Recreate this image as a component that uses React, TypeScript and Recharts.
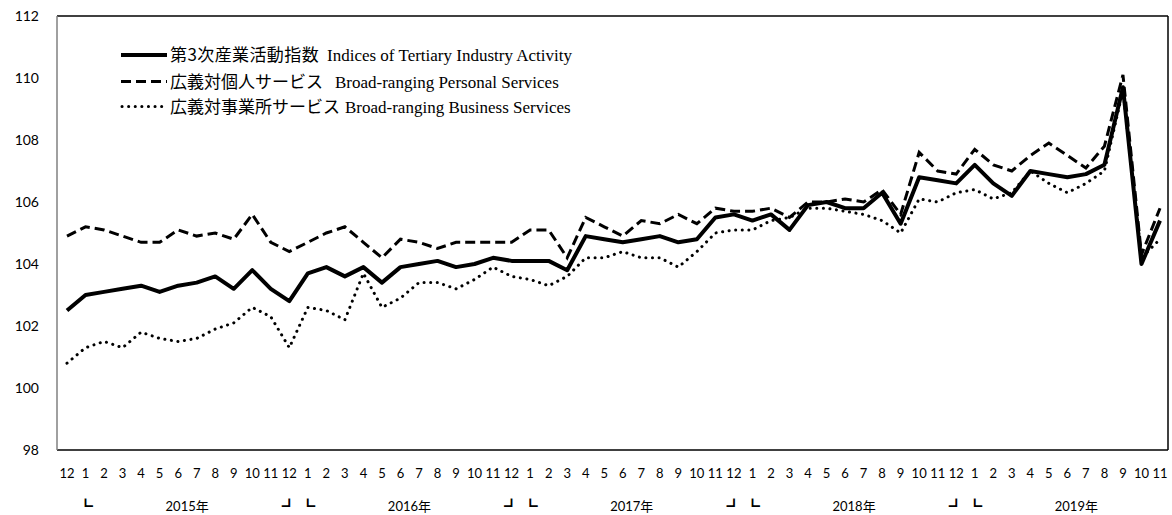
import { Line, LineChart, XAxis, YAxis } from "recharts";

const monthLabels = [
  "12", "1", "2", "3", "4", "5", "6", "7", "8", "9", "10", "11",
  "12", "1", "2", "3", "4", "5", "6", "7", "8", "9", "10", "11",
  "12", "1", "2", "3", "4", "5", "6", "7", "8", "9", "10", "11",
  "12", "1", "2", "3", "4", "5", "6", "7", "8", "9", "10", "11",
  "12", "1", "2", "3", "4", "5", "6", "7", "8", "9", "10", "11",
];
const years = ["2015年", "2016年", "2017年", "2018年", "2019年"];

// 第3次産業活動指数
const tertiary = [
  102.5, 103.0, 103.1, 103.2, 103.3, 103.1, 103.3, 103.4, 103.6, 103.2, 103.8, 103.2,
  102.8, 103.7, 103.9, 103.6, 103.9, 103.4, 103.9, 104.0, 104.1, 103.9, 104.0, 104.2,
  104.1, 104.1, 104.1, 103.8, 104.9, 104.8, 104.7, 104.8, 104.9, 104.7, 104.8, 105.5,
  105.6, 105.4, 105.6, 105.1, 105.9, 106.0, 105.8, 105.8, 106.3, 105.3, 106.8, 106.7,
  106.6, 107.2, 106.6, 106.2, 107.0, 106.9, 106.8, 106.9, 107.2, 109.7, 104.0, 105.4,
];
// 広義対個人サービス
const personal = [
  104.9, 105.2, 105.1, 104.9, 104.7, 104.7, 105.1, 104.9, 105.0, 104.8, 105.6, 104.7,
  104.4, 104.7, 105.0, 105.2, 104.7, 104.2, 104.8, 104.7, 104.5, 104.7, 104.7, 104.7,
  104.7, 105.1, 105.1, 104.2, 105.5, 105.2, 104.9, 105.4, 105.3, 105.6, 105.3, 105.8,
  105.7, 105.7, 105.8, 105.5, 106.0, 106.0, 106.1, 106.0, 106.4, 105.6, 107.6, 107.0,
  106.9, 107.7, 107.2, 107.0, 107.5, 107.9, 107.5, 107.1, 107.8, 110.1, 104.3, 105.8,
];
// 広義対事業所サービス
const business = [
  100.8, 101.3, 101.5, 101.3, 101.8, 101.6, 101.5, 101.6, 101.9, 102.1, 102.6, 102.3,
  101.3, 102.6, 102.5, 102.2, 103.7, 102.6, 102.9, 103.4, 103.4, 103.2, 103.5, 103.9,
  103.6, 103.5, 103.3, 103.6, 104.2, 104.2, 104.4, 104.2, 104.2, 103.9, 104.4, 105.0,
  105.1, 105.1, 105.4, 105.5, 105.8, 105.8, 105.7, 105.6, 105.4, 105.0, 106.1, 106.0,
  106.3, 106.4, 106.1, 106.3, 107.0, 106.6, 106.3, 106.6, 107.0, 109.6, 104.2, 104.8,
];
const yTicks = [98, 100, 102, 104, 106, 108, 110, 112];

const data = monthLabels.map((m, i) => ({
  m,
  tertiary: tertiary[i],
  personal: personal[i],
  business: business[i],
}));

const LATO = "Lato, 'Noto Sans CJK JP', sans-serif";
const CJK = "'Noto Sans CJK JP', sans-serif";
const SERIF = "'Liberation Serif', 'Times New Roman', serif";

function MonthTick(props: any) {
  const { x, y, index, payload } = props;
  const i = index ?? payload?.index ?? 0;
  const m = monthLabels[i];
  return (
    <g>
      <text x={x} y={y + 28} textAnchor="middle" fontFamily={LATO} fontSize={13} fill="#000">
        {m}
      </text>
      {m === "1" && (
        <text x={x} y={y + 62} textAnchor="middle" fontFamily={CJK} fontSize={15} fill="#000">
          ┗
        </text>
      )}
      {m === "12" && i > 0 && (
        <text x={x} y={y + 62} textAnchor="middle" fontFamily={CJK} fontSize={15} fill="#000">
          ┛
        </text>
      )}
      {m === "6" && (
        <text x={x + 9} y={y + 61} textAnchor="middle" fontFamily={LATO} fontSize={13} fill="#000">
          {years[Math.floor(i / 12)]}
        </text>
      )}
    </g>
  );
}

// legend drawn as an overlay in the upper left of the plot
function KeyBox() {
  return (
    <svg width={480} height={80} style={{ position: "absolute", left: 118, top: 40 }}>
      <line x1={3} y1={15} x2={49} y2={15} stroke="#000" strokeWidth={4} />
      <text y={21} fontSize={17} fill="#000">
        <tspan x={52} fontFamily={CJK} letterSpacing={0.4}>第3次産業活動指数</tspan>
        <tspan x={209} fontFamily={SERIF}>Indices of Tertiary Industry Activity</tspan>
      </text>
      <line x1={3} y1={41.5} x2={49} y2={41.5} stroke="#000" strokeWidth={3} strokeDasharray="10 5" />
      <text y={47.5} fontSize={17} fill="#000">
        <tspan x={52} fontFamily={CJK}>広義対個人サービス</tspan>
        <tspan x={217} fontFamily={SERIF}>Broad-ranging Personal Services</tspan>
      </text>
      <line x1={4} y1={66.5} x2={49} y2={66.5} stroke="#000" strokeWidth={3} strokeDasharray="0.1 6.5" strokeLinecap="round" />
      <text y={72.5} fontSize={17} fill="#000">
        <tspan x={52} fontFamily={CJK}>広義対事業所サービス</tspan>
        <tspan x={227} fontFamily={SERIF}>Broad-ranging Business Services</tspan>
      </text>
    </svg>
  );
}

export default function App() {
  return (
    <div style={{ position: "relative", width: 1172, height: 515, background: "#fff" }}>
      <style>{"body{margin:0;overflow:hidden}"}</style>
      <LineChart width={1172} height={515} data={data} margin={{ top: 15, right: 0, bottom: 0, left: 0 }}>
        <XAxis
          dataKey="m"
          interval={0}
          height={65}
          padding={{ left: 10, right: 8 }}
          tickSize={0}
          tickMargin={0}
          tick={<MonthTick />}
          axisLine={{ stroke: "#000", strokeWidth: 1.5 }}
          tickLine={false}
          allowDuplicatedCategory
        />
        <XAxis
          xAxisId="top"
          orientation="top"
          dataKey="m"
          height={1}
          tick={false}
          tickLine={false}
          axisLine={{ stroke: "#000", strokeWidth: 1.5 }}
          padding={{ left: 10, right: 8 }}
          allowDuplicatedCategory
        />
        <YAxis
          domain={[98, 112]}
          ticks={yTicks}
          width={57}
          tickSize={0}
          tickMargin={18}
          tickLine={false}
          axisLine={{ stroke: "#808080", strokeWidth: 1.5 }}
          tick={{ fontFamily: LATO, fontSize: 14, fill: "#000" }}
        />
        <YAxis
          yAxisId="r"
          orientation="right"
          type="number"
          domain={[98, 112]}
          ticks={yTicks}
          width={4}
          tick={false}
          tickLine={false}
          axisLine={{ stroke: "#000", strokeWidth: 1.5 }}
        />
        <Line dataKey="business" stroke="#000" strokeWidth={3} strokeDasharray="0.1 6.5" strokeLinecap="round" dot={false} isAnimationActive={false} />
        <Line dataKey="personal" stroke="#000" strokeWidth={3} strokeDasharray="10 5" dot={false} isAnimationActive={false} />
        <Line dataKey="tertiary" stroke="#000" strokeWidth={4} strokeLinejoin="round" dot={false} isAnimationActive={false} />
      </LineChart>
      <KeyBox />
    </div>
  );
}
